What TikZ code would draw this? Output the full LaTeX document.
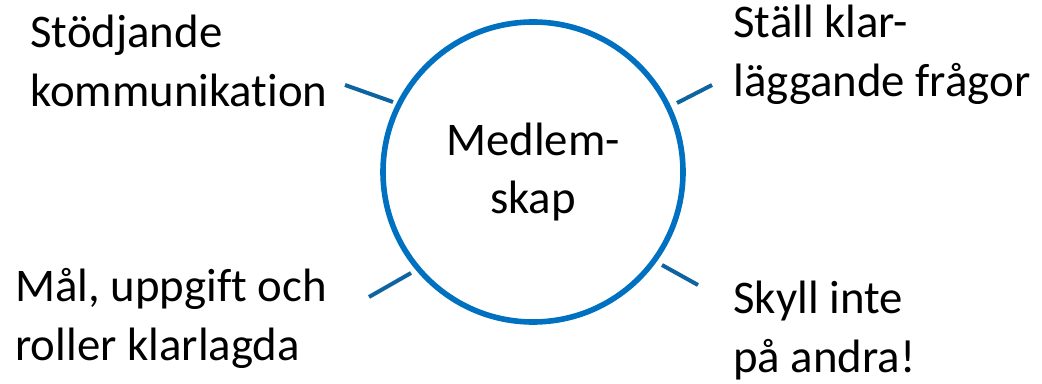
\documentclass[tikz,border=0pt]{standalone}
\usepackage{fontspec}
\setmainfont{Carlito}[Ligatures=NoCommon]
\definecolor{ringblue}{RGB}{0,112,192}
\definecolor{tickblue}{RGB}{14,100,160}
\begin{document}
\begin{tikzpicture}[x=0.5pt, y=-0.5pt,
    lbl/.style={inner sep=0pt, align=left, font=\fontsize{23.4}{29.5}\selectfont},
    tick/.style={tickblue, line width=2pt}]
  \useasboundingbox (0,0) rectangle (1042,384);
  % the ring in the middle
  \node[draw=ringblue, line width=2.8pt, circle, minimum size=150pt, inner sep=0pt,
        align=center, font=\fontsize{23.4}{29}\selectfont] (ring) at (533,172) {Medlem-\\skap};
  % the four texts round it (anchored at the last line)
  \node[lbl, anchor=base west] (stod) at (30,107) {Stödjande\\kommunikation};
  \node[lbl, anchor=base west] (fraga) at (733,97) {Ställ klar-\\läggande frågor};
  \node[lbl, anchor=base west] (mal) at (15,360) {Mål, uppgift och\\roller klarlagda};
  \node[lbl, anchor=base west] (skyll) at (733,372) {Skyll inte\\på andra!};
  % short ticks
  \coordinate (t1a) at (345,85);  \coordinate (t1b) at (393,102);
  \coordinate (t2a) at (677,103); \coordinate (t2b) at (712,85);
  \coordinate (t3a) at (369,297); \coordinate (t3b) at (411,273);
  \coordinate (t4a) at (662,265); \coordinate (t4b) at (698,285);
  \draw[tick] (t1a) -- (t1b);
  \draw[tick] (t2a) -- (t2b);
  \draw[tick] (t3a) -- (t3b);
  \draw[tick] (t4a) -- (t4b);
\end{tikzpicture}
\end{document}
